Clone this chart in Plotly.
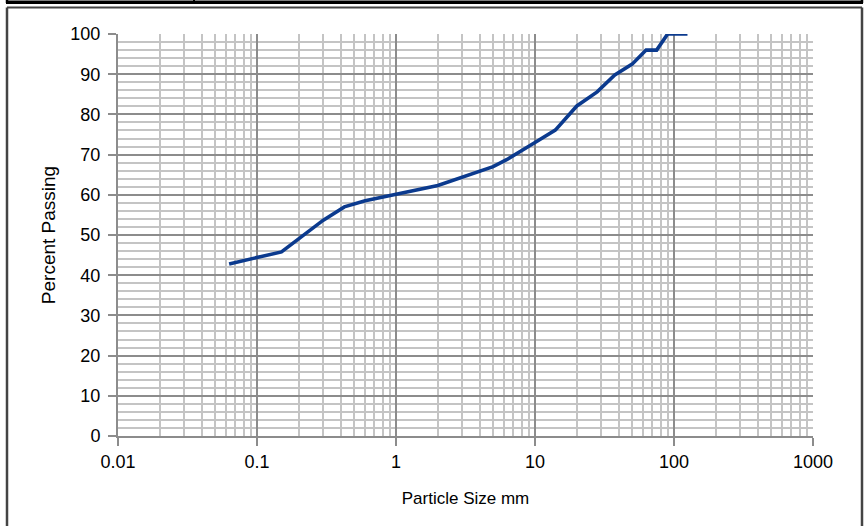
import plotly.graph_objects as go

particle_size_mm = [0.063, 0.15, 0.3, 0.425, 0.6, 1.18, 2, 5, 6.3, 10, 14, 20, 28, 37.5, 50, 63, 75, 90, 125]
percent_passing = [42.8, 45.8, 53.7, 57.0, 58.5, 60.6, 62.3, 67.0, 68.8, 73.0, 76.1, 82.1, 85.6, 89.8, 92.5, 96.0, 96.0, 100, 100]

x_major = [0.01, 0.1, 1, 10, 100, 1000]
x_labels = ["0.01", "0.1", "1", "10", "100", "1000"]
x_minor = [m * 10.0 ** e for e in range(-2, 3) for m in range(2, 10)]
y_major = list(range(0, 101, 10))
y_minor = [v for v in range(0, 101, 2) if v % 10]

W, H = 866, 526
ml, mr, mt, mb = 118, 53, 34, 90
pw, ph = W - ml - mr, H - mt - mb

def px(xp):
    return (xp - ml) / pw

def py(yp):
    return (H - mb - yp) / ph

fig = go.Figure()
fig.add_trace(go.Scatter(x=particle_size_mm, y=percent_passing, mode="lines",
                         line=dict(color="#0b3a8e", width=3.6), showlegend=False,
                         hoverinfo="skip"))

fam = "Liberation Sans, Arial"
font = dict(family=fam, size=18, color="#000")
fig.update_xaxes(type="log", range=[-2, 3], tickvals=x_major, ticktext=x_labels,
                 showgrid=True, gridcolor="#8c8c8c", gridwidth=2,
                 ticks="outside", ticklen=8, tickcolor="#8c8c8c", tickwidth=2,
                 showline=True, linecolor="#8c8c8c", linewidth=2,
                 minor=dict(tickvals=x_minor, showgrid=True, gridcolor="#c4c4c4", gridwidth=2, ticks=""),
                 tickfont=font, zeroline=False,
                 title=dict(text="Particle Size mm", font=dict(family=fam, size=17, color="#000"), standoff=22))
fig.update_yaxes(range=[0, 100], tickvals=y_major,
                 showgrid=True, gridcolor="#8c8c8c", gridwidth=2,
                 ticks="outside", ticklen=8, tickcolor="#8c8c8c", tickwidth=2,
                 showline=True, linecolor="#8c8c8c", linewidth=2,
                 minor=dict(tickvals=y_minor, showgrid=True, gridcolor="#c4c4c4", gridwidth=2, ticks=""),
                 tickfont=font, zeroline=False, ticklabelstandoff=4,
                 title=dict(text="Percent Passing", font=dict(family=fam, size=19, color="#000"), standoff=10))

def hline(x0, x1, y, color, width):
    return dict(type="line", xref="paper", yref="paper", x0=px(x0), x1=px(x1), y0=py(y), y1=py(y),
                line=dict(color=color, width=width))

def vline(x, y0, y1, color, width):
    return dict(type="line", xref="paper", yref="paper", x0=px(x), x1=px(x), y0=py(y0), y1=py(y1),
                line=dict(color=color, width=width))

shapes = [
    # chart frame
    hline(7, 862, 7.5, "#444", 2),
    vline(7, 7.5, 526, "#444", 2.5),
    vline(862, 7.5, 526, "#444", 2.5),
    # header box above
    hline(6, 863, 2.2, "#000", 3.5),
    vline(7, 0, 3, "#000", 2.5),
    vline(194, 0, 3, "#000", 2),
    vline(862, 0, 3, "#000", 2.5),
]

fig.update_layout(width=W, height=H, margin=dict(l=ml, r=mr, t=mt, b=mb, autoexpand=False),
                  paper_bgcolor="white", plot_bgcolor="white", shapes=shapes)
fig.write_html("out.html", config=dict(displayModeBar=False),
               post_script="document.body.style.margin='0';document.body.style.overflow='hidden';")
